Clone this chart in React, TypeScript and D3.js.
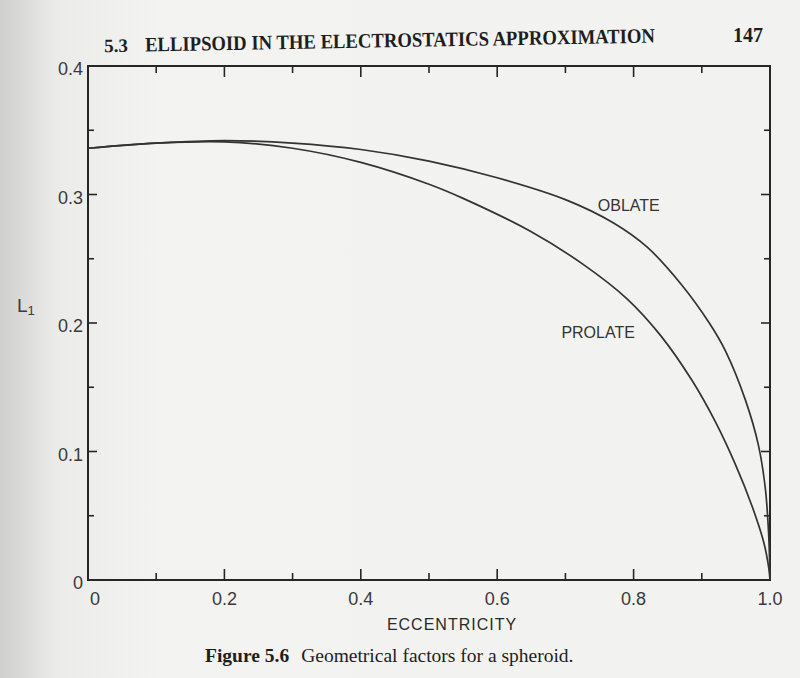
import { useEffect, useRef } from "react"
import * as d3 from "d3"

// eccentricity vs geometrical factor L1
const oblateEcc = [0, 0.1, 0.2, 0.3, 0.4, 0.5, 0.6, 0.7, 0.77, 0.82, 0.87, 0.911, 0.935, 0.964, 0.983, 0.993, 0.998, 1.0]
const oblateL1 = [0.336, 0.34, 0.342, 0.34, 0.335, 0.326, 0.313, 0.296, 0.278, 0.259, 0.23, 0.2, 0.178, 0.14, 0.105, 0.072, 0.036, 0]

const prolateEcc = [0, 0.1, 0.2, 0.3, 0.4, 0.5, 0.55, 0.65, 0.725, 0.79, 0.84, 0.886, 0.92, 0.95, 0.974, 0.991, 0.998, 1.0]
const prolateL1 = [0.336, 0.34, 0.341, 0.336, 0.325, 0.308, 0.297, 0.271, 0.246, 0.219, 0.19, 0.155, 0.123, 0.089, 0.057, 0.029, 0.01, 0]

const xTickLabels = ["0", "0.2", "0.4", "0.6", "0.8", "1.0"]
const yTickLabels = ["0", "0.1", "0.2", "0.3", "0.4"]

const curveLabels = [
  { name: "OBLATE", ecc: 0.793, l1: 0.292 },
  { name: "PROLATE", ecc: 0.748, l1: 0.193 },
]

export default function App() {
  const svgRef = useRef<SVGSVGElement>(null)

  useEffect(() => {
    if (!svgRef.current) return
    const width = 800
    const height = 678
    const ink = "#262626"
    const sans = "'Liberation Sans', Arial, sans-serif"
    const serif = "'Liberation Serif', 'Times New Roman', serif"

    const svg = d3.select(svgRef.current).attr("width", width).attr("height", height)
    svg.selectAll("*").remove()

    // page background with darker gutter on the left
    const defs = svg.append("defs")
    const grad = defs.append("linearGradient").attr("id", "page").attr("x1", "0").attr("x2", "1")
    grad.append("stop").attr("offset", "0").attr("stop-color", "#cfcfcd")
    grad.append("stop").attr("offset", "0.07").attr("stop-color", "#ebebe9")
    grad.append("stop").attr("offset", "0.2").attr("stop-color", "#f3f3f1")
    grad.append("stop").attr("offset", "1").attr("stop-color", "#f2f2f0")
    svg.append("rect").attr("width", width).attr("height", height).attr("fill", "url(#page)")

    const x = d3.scaleLinear().domain([0, 1]).range([88, 770])
    const y = d3.scaleLinear().domain([0, 0.4]).range([580, 66])

    // header
    const header = svg.append("g").attr("transform", "rotate(-1 400 40)")
    header.append("text")
      .attr("x", 104).attr("y", 47)
      .attr("font-family", serif).attr("font-weight", "bold").attr("font-size", 19)
      .attr("fill", "#1e1e1e")
      .text("5.3")
    header.append("text")
      .attr("x", 145).attr("y", 47)
      .attr("font-family", serif).attr("font-weight", "bold").attr("font-size", 20.5)
      .attr("fill", "#1e1e1e")
      .attr("textLength", 510)
      .attr("lengthAdjust", "spacingAndGlyphs")
      .text("ELLIPSOID IN THE ELECTROSTATICS APPROXIMATION")
    svg.append("text")
      .attr("x", 733).attr("y", 42)
      .attr("font-family", serif).attr("font-weight", "bold").attr("font-size", 20)
      .attr("fill", "#1e1e1e")
      .text("147")

    const g = svg.append("g")

    // frame
    g.append("rect")
      .attr("x", x(0)).attr("y", y(0.4))
      .attr("width", x(1) - x(0)).attr("height", y(0) - y(0.4))
      .attr("fill", "none").attr("stroke", ink).attr("stroke-width", 2)

    // ticks (inward on all four sides)
    const xTicks = d3.range(0, 11).map((i) => i / 10)
    xTicks.forEach((t, i) => {
      if (i === 0 || i === 10) return
      const len = i % 2 === 0 ? 11 : 7
      g.append("line").attr("x1", x(t)).attr("x2", x(t)).attr("y1", y(0)).attr("y2", y(0) - len)
        .attr("stroke", ink).attr("stroke-width", 1.6)
      g.append("line").attr("x1", x(t)).attr("x2", x(t)).attr("y1", y(0.4)).attr("y2", y(0.4) + len)
        .attr("stroke", ink).attr("stroke-width", 1.6)
    })
    const yTicks = d3.range(0, 9).map((i) => i * 0.05)
    yTicks.forEach((t, i) => {
      if (i === 0 || i === 8) return
      const len = i % 2 === 0 ? 9 : 6
      g.append("line").attr("x1", x(0)).attr("x2", x(0) + len).attr("y1", y(t)).attr("y2", y(t))
        .attr("stroke", ink).attr("stroke-width", 1.6)
      g.append("line").attr("x1", x(1)).attr("x2", x(1) - len).attr("y1", y(t)).attr("y2", y(t))
        .attr("stroke", ink).attr("stroke-width", 1.6)
    })

    // tick labels
    xTickLabels.forEach((lab) => {
      g.append("text")
        .attr("x", x(+lab) + (lab === "0" ? 7 : 0)).attr("y", y(0) + 25)
        .attr("text-anchor", "middle")
        .attr("font-family", sans).attr("font-size", 18).attr("fill", "#3a3a3a")
        .text(lab)
    })
    yTickLabels.forEach((lab) => {
      g.append("text")
        .attr("x", x(0) - 5).attr("y", y(+lab) + 9)
        .attr("text-anchor", "end")
        .attr("font-family", sans).attr("font-size", 18).attr("fill", "#3a3a3a")
        .text(lab)
    })

    // axis titles
    g.append("text")
      .attr("x", 452).attr("y", 630)
      .attr("text-anchor", "middle")
      .attr("font-family", sans).attr("font-size", 16).attr("letter-spacing", 1).attr("fill", "#2a2a2a")
      .text("ECCENTRICITY")
    const l1 = g.append("text")
      .attr("x", 17).attr("y", 312)
      .attr("font-family", sans).attr("font-size", 19).attr("fill", "#3a3a3a")
    l1.append("tspan").text("L")
    l1.append("tspan").attr("font-size", 13).attr("dy", 3).text("1")

    // curves
    const line = d3.line<[number, number]>()
      .x((d) => x(d[0]))
      .y((d) => y(d[1]))
      .curve(d3.curveCatmullRom.alpha(0.5))

    const series = [
      oblateEcc.map((e, i) => [e, oblateL1[i]] as [number, number]),
      prolateEcc.map((e, i) => [e, prolateL1[i]] as [number, number]),
    ]
    series.forEach((pts) => {
      g.append("path")
        .attr("d", line(pts))
        .attr("fill", "none")
        .attr("stroke", "#333")
        .attr("stroke-width", 1.7)
    })

    curveLabels.forEach((c) => {
      g.append("text")
        .attr("x", x(c.ecc)).attr("y", y(c.l1) + 6)
        .attr("text-anchor", "middle")
        .attr("font-family", sans).attr("font-size", 16).attr("fill", "#333")
        .text(c.name)
    })

    // caption
    const cap = svg.append("text")
      .attr("x", 205).attr("y", 662)
      .attr("font-family", serif).attr("font-size", 19.5).attr("fill", "#1e1e1e")
    cap.append("tspan").attr("font-weight", "bold").text("Figure 5.6")
    cap.append("tspan").attr("dx", 12).text("Geometrical factors for a spheroid.")
  }, [])

  return (
    <svg
      ref={svgRef}
      style={{ position: "absolute", left: 0, top: 0, display: "block" }}
    />
  )
}
